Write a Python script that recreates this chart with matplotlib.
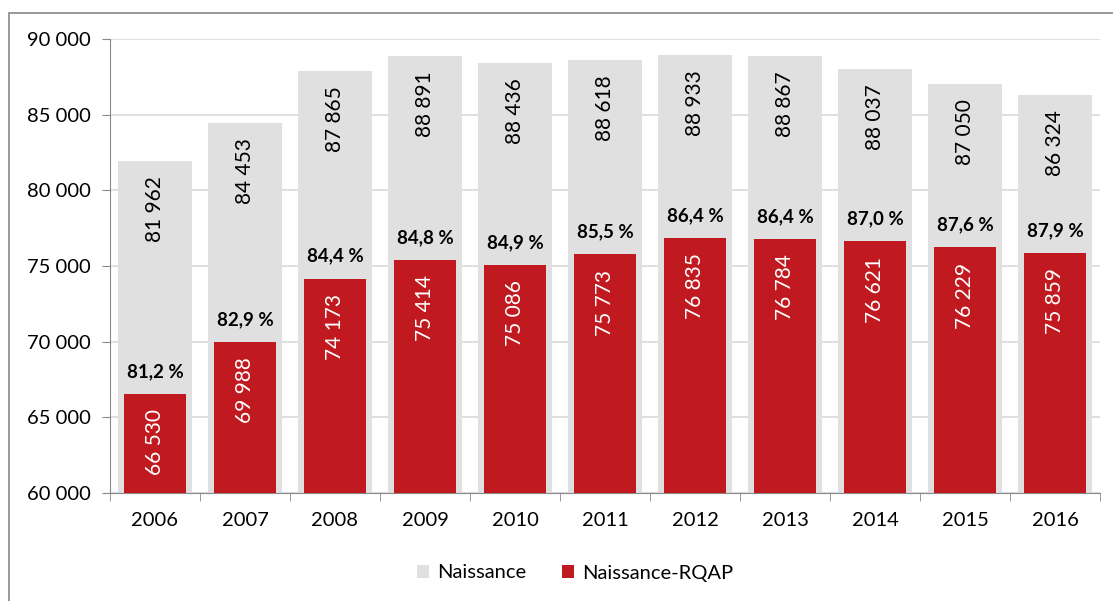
import matplotlib.pyplot as plt
from matplotlib.patches import Rectangle

years = ['2006', '2007', '2008', '2009', '2010', '2011', '2012', '2013', '2014', '2015', '2016']
naissance = [81962, 84453, 87865, 88891, 88436, 88618, 88933, 88867, 88037, 87050, 86324]
rqap = [66530, 69988, 74173, 75414, 75086, 75773, 76835, 76784, 76621, 76229, 75859]
pct = ['81,2 %', '82,9 %', '84,4 %', '84,8 %', '84,9 %', '85,5 %', '86,4 %', '86,4 %', '87,0 %', '87,6 %', '87,9 %']

plt.rcParams['font.family'] = ['Lato', 'DejaVu Sans']

def fmt(v):
    return f'{v:,}'.replace(',', ' ')

fig = plt.figure(figsize=(11.13, 6.01), dpi=100)
ax = fig.add_axes([110 / 1113, 1 - 493 / 601, 990 / 1113, 454 / 601])

# cadre autour du graphique
fig.patches.append(Rectangle((9 / 1113, -0.1), 1.2, 1 - 13 / 601 + 0.1, transform=fig.transFigure,
                             fill=False, edgecolor='#888888', linewidth=1.2))

x = range(len(years))
grey = ax.bar(x, naissance, width=0.83, color='#E0E0E0', label='Naissance', zorder=2)
red = ax.bar(x, rqap, width=0.69, color='#C0191F', label='Naissance-RQAP', zorder=3)

for i in x:
    ax.annotate(fmt(naissance[i]), (i, naissance[i]), xytext=(0, -11), textcoords='offset points',
                rotation=90, ha='center', va='top', fontsize=15, color='black', zorder=4)
    ax.annotate(fmt(rqap[i]), (i, rqap[i]), xytext=(0, -11), textcoords='offset points',
                rotation=90, ha='center', va='top', fontsize=15, color='white', zorder=4)
    ax.annotate(pct[i], (i, rqap[i]), xytext=(0, 10), textcoords='offset points',
                ha='center', va='bottom', fontsize=13.5, fontweight='bold', color='black', zorder=4)

ax.set_ylim(60000, 90000)
ax.set_xlim(-0.5, len(years) - 0.5)
ax.set_yticks(range(60000, 90001, 5000))
ax.set_yticklabels([fmt(v) for v in range(60000, 90001, 5000)], fontsize=14.5)
ax.set_xticks(list(x))
ax.set_xticklabels(years, fontsize=14.5)
ax.set_xticks([i - 0.5 for i in range(len(years) + 1)], minor=True)
ax.tick_params(axis='x', which='major', length=0, pad=14)
ax.tick_params(axis='x', which='minor', length=6, color='#888888')
ax.tick_params(axis='y', length=6, color='#888888', pad=8)
ax.grid(axis='y', color='#D9D9D9', linewidth=1.2, zorder=0)
for s in ['top', 'right']:
    ax.spines[s].set_visible(False)
for s in ['left', 'bottom']:
    ax.spines[s].set_color('#888888')

fig.legend(handles=[grey, red], loc='center', bbox_to_anchor=(575 / 1113, 1 - 573 / 601), ncol=2,
           frameon=False, fontsize=14.5, handlelength=0.6, handleheight=0.6, columnspacing=1.8, handletextpad=0.4)

fig.savefig('out.png', dpi=100)
